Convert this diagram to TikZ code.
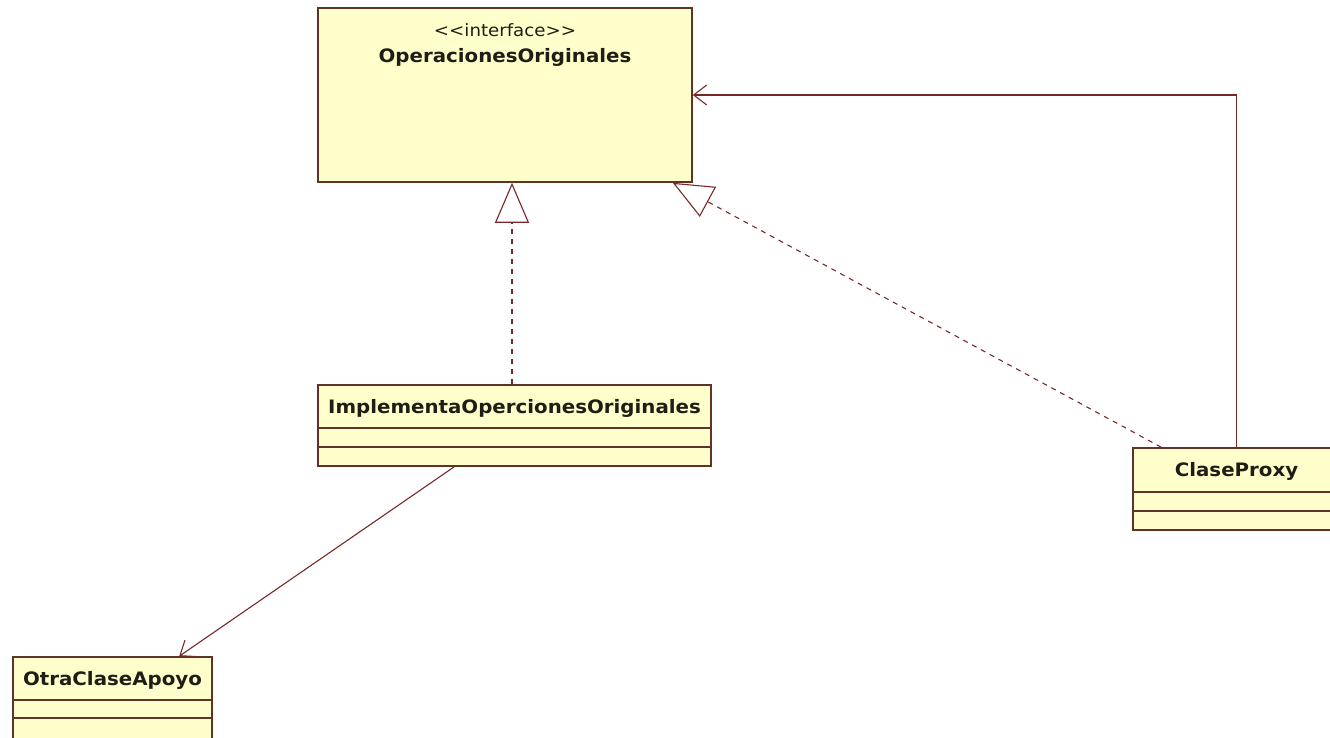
\documentclass[tikz,border=0pt]{standalone}
\usepackage{fontspec}
\usetikzlibrary{arrows.meta}
\newfontfamily\umlfont[FakeStretch=1.07]{DejaVu Sans}
\definecolor{umlfill}{RGB}{255,255,204}
\definecolor{umlborder}{RGB}{96,50,40}
\definecolor{umlline}{RGB}{120,40,40}
\definecolor{umltext}{RGB}{30,30,20}
\tikzset{
  cls/.style={draw=umlborder, fill=umlfill, line width=1.6pt, rectangle, inner sep=0pt},
  clsname/.style={text=umltext, font=\umlfont\bfseries\fontsize{18.5}{21}\selectfont, inner sep=0pt},
  stereo/.style={text=umltext, font=\umlfont\fontsize{17}{20}\selectfont, inner sep=0pt},
  compline/.style={draw=umlborder, line width=1.6pt},
  assoc/.style={draw=umlline, line width=1.1pt, -{Straight Barb[length=13pt,width=20pt,line width=1.1pt]}},
  realize/.style={draw=umlline, line width=1.1pt, dash pattern=on 5pt off 5pt,
     -{Triangle[open,length=40pt,width=34pt,line width=1.1pt,fill=white]}},
}
\begin{document}
\begin{tikzpicture}[x=1pt,y=-1pt]
\useasboundingbox (0,0) rectangle (1330,737);
% interface
\node[cls, minimum width=374pt, minimum height=174pt] (iface) at (505,95) {};
\node[stereo] (ifst) at (505,30) {\textless\textless interface\textgreater\textgreater};
\node[clsname] (ifname) at (505,57) {OperacionesOriginales};
% Implementa
\node[cls, minimum width=393pt, minimum height=81pt] (impl) at (514.5,425.5) {};
\node[clsname] (implname) at (514.5,408) {ImplementaOpercionesOriginales};
\draw[compline] (318,428) -- (711,428);
\draw[compline] (318,447) -- (711,447);
% ClaseProxy
\node[cls, minimum width=207pt, minimum height=82pt] (proxy) at (1236.5,489) {};
\node[clsname] (proxyname) at (1236.5,471) {ClaseProxy};
\draw[compline] (1133,492) -- (1340,492);
\draw[compline] (1133,511) -- (1340,511);
% OtraClaseApoyo
\node[cls, minimum width=199pt, minimum height=84pt] (otra) at (112.5,699) {};
\node[clsname] (otraname) at (112.5,680) {OtraClaseApoyo};
\draw[compline] (13,700) -- (212,700);
\draw[compline] (13,718) -- (212,718);
% connectors
\draw[realize] ([xshift=-2.5pt]impl.north) -- ([xshift=7pt]iface.south);
\draw[realize] ([xshift=29pt]proxy.north west) -- ([xshift=-20pt]iface.south east);
\draw[assoc] (proxy.north) |- (iface.east);
\draw[assoc] ([xshift=137pt]impl.south west) -- ([xshift=167pt]otra.north west);
\end{tikzpicture}
\end{document}
